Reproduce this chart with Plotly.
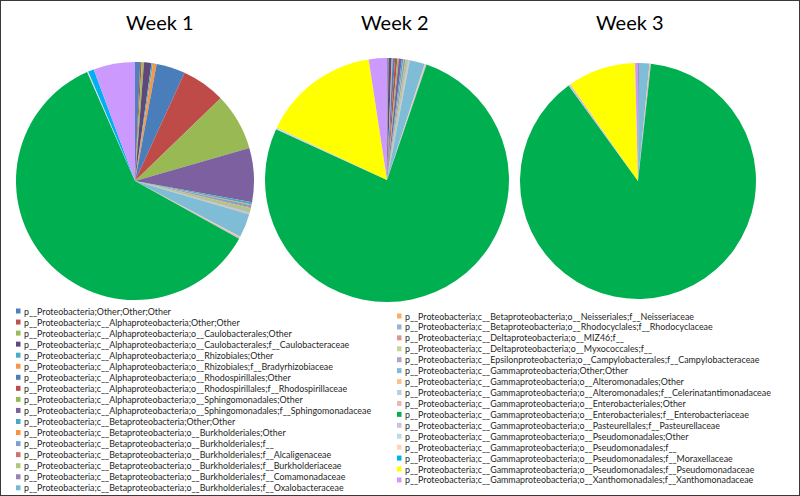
import plotly.graph_objects as go

labels = [
    "p__Proteobacteria;Other;Other;Other",
    "p__Proteobacteria;c__Alphaproteobacteria;Other;Other",
    "p__Proteobacteria;c__Alphaproteobacteria;o__Caulobacterales;Other",
    "p__Proteobacteria;c__Alphaproteobacteria;o__Caulobacterales;f__Caulobacteraceae",
    "p__Proteobacteria;c__Alphaproteobacteria;o__Rhizobiales;Other",
    "p__Proteobacteria;c__Alphaproteobacteria;o__Rhizobiales;f__Bradyrhizobiaceae",
    "p__Proteobacteria;c__Alphaproteobacteria;o__Rhodospirillales;Other",
    "p__Proteobacteria;c__Alphaproteobacteria;o__Rhodospirillales;f__Rhodospirillaceae",
    "p__Proteobacteria;c__Alphaproteobacteria;o__Sphingomonadales;Other",
    "p__Proteobacteria;c__Alphaproteobacteria;o__Sphingomonadales;f__Sphingomonadaceae",
    "p__Proteobacteria;c__Betaproteobacteria;Other;Other",
    "p__Proteobacteria;c__Betaproteobacteria;o__Burkholderiales;Other",
    "p__Proteobacteria;c__Betaproteobacteria;o__Burkholderiales;f__",
    "p__Proteobacteria;c__Betaproteobacteria;o__Burkholderiales;f__Alcaligenaceae",
    "p__Proteobacteria;c__Betaproteobacteria;o__Burkholderiales;f__Burkholderiaceae",
    "p__Proteobacteria;c__Betaproteobacteria;o__Burkholderiales;f__Comamonadaceae",
    "p__Proteobacteria;c__Betaproteobacteria;o__Burkholderiales;f__Oxalobacteraceae",
    "p__Proteobacteria;c__Betaproteobacteria;o__Neisseriales;f__Neisseriaceae",
    "p__Proteobacteria;c__Betaproteobacteria;o__Rhodocyclales;f__Rhodocyclaceae",
    "p__Proteobacteria;c__Deltaproteobacteria;o__MIZ46;f__",
    "p__Proteobacteria;c__Deltaproteobacteria;o__Myxococcales;f__",
    "p__Proteobacteria;c__Epsilonproteobacteria;o__Campylobacterales;f__Campylobacteraceae",
    "p__Proteobacteria;c__Gammaproteobacteria;Other;Other",
    "p__Proteobacteria;c__Gammaproteobacteria;o__Alteromonadales;Other",
    "p__Proteobacteria;c__Gammaproteobacteria;o__Alteromonadales;f__Celerinatantimonadaceae",
    "p__Proteobacteria;c__Gammaproteobacteria;o__Enterobacteriales;Other",
    "p__Proteobacteria;c__Gammaproteobacteria;o__Enterobacteriales;f__Enterobacteriaceae",
    "p__Proteobacteria;c__Gammaproteobacteria;o__Pasteurellales;f__Pasteurellaceae",
    "p__Proteobacteria;c__Gammaproteobacteria;o__Pseudomonadales;Other",
    "p__Proteobacteria;c__Gammaproteobacteria;o__Pseudomonadales;f__",
    "p__Proteobacteria;c__Gammaproteobacteria;o__Pseudomonadales;f__Moraxellaceae",
    "p__Proteobacteria;c__Gammaproteobacteria;o__Pseudomonadales;f__Pseudomonadaceae",
    "p__Proteobacteria;c__Gammaproteobacteria;o__Xanthomonadales;f__Xanthomonadaceae",
]

colors = [
    "#4F81BD", "#C0504D", "#9BBB59", "#5F497A", "#4BACC6", "#F79646",
    "#4A7EBB", "#BE4B48", "#98B954", "#7D60A0", "#46AAC5", "#F69240",
    "#7BA0CD", "#CD7371", "#AFC97A", "#9983B5", "#6FBDD1", "#F9AB6B",
    "#95B3D7", "#D99694", "#C3D69B", "#B3A2C7", "#7FBCD6", "#FAC090",
    "#B9CDE5", "#E6B9B8", "#00B050", "#CCC1DA", "#B7DEE8", "#FCD5B5",
    "#00B0F0", "#FFFF00", "#CC99FF",
]

week1 = [0.7, 0.2, 0.3, 1.0, 0.2, 0.5,
         3.9, 5.9, 7.7, 7.3,
         0.3, 0.1, 0.3, 0.1, 0.4, 0.1, 0.1,
         0.05, 0.05, 0.05, 0.05, 0.05, 3.2, 0.05, 0.05, 0.2,
         60.0, 0.05, 0.05, 0.05, 0.8, 0.0, 5.6]

week2 = [0.1, 0.05, 0.05, 0.4, 0.05, 0.1,
         0.3, 0.3, 0.2, 0.4,
         0.2, 0.05, 0.2, 0.05, 0.2, 0.05, 0.05,
         0.05, 0.05, 0.05, 0.05, 0.05, 2.0, 0.05, 0.05, 0.15,
         76.5, 0.1, 0.05, 0.05, 0.05, 15.5, 2.4]

week3 = [0.05, 0.0, 0.0, 0.05, 0.0, 0.0,
         0.0, 0.0, 0.0, 0.05,
         0.0, 0.0, 0.0, 0.0, 0.0, 0.0, 0.0,
         0.0, 0.0, 0.0, 0.0, 0.0, 1.4, 0.0, 0.0, 0.2,
         88.2, 0.3, 0.0, 0.0, 0.0, 9.3, 0.4]

weeks = ["Week 1", "Week 2", "Week 3"]
series = [week1, week2, week3]

W, H = 800, 496
# pie geometry in pixels: (center x, center y, radius)
geom = [(135, 181, 119), (387, 180, 122), (638, 181, 118)]
title_x = [160, 395, 630]

fig = go.Figure()
for name, vals, (cx, cy, r) in zip(weeks, series, geom):
    fig.add_trace(go.Pie(
        labels=labels, values=vals, name=name,
        sort=False, direction="clockwise", rotation=0,
        marker=dict(colors=colors, line=dict(width=0)),
        textinfo="none", hoverinfo="label+percent",
        showlegend=False,
        domain=dict(x=[(cx - r) / W, (cx + r) / W],
                    y=[1 - (cy + r) / H, 1 - (cy - r) / H]),
    ))

annotations = []
shapes = []
for name, tx in zip(weeks, title_x):
    annotations.append(dict(text=name, x=tx / W, y=1 - 22 / H, xref="paper", yref="paper",
                            xanchor="center", yanchor="middle", showarrow=False,
                            font=dict(family="Lato", size=20, color="#000000")))

# legend, two columns
n_left = 17
for i, (lab, col) in enumerate(zip(labels, colors)):
    if i < n_left:
        sx, ty = 16, 311 + i * 11.05
    else:
        sx, ty = 397, 316 + (i - n_left) * 10.93
    shapes.append(dict(type="rect", xref="paper", yref="paper",
                       x0=sx / W, x1=(sx + 4.5) / W,
                       y0=1 - (ty + 2.5) / H, y1=1 - (ty - 2.5) / H,
                       fillcolor=col, line=dict(width=0)))
    annotations.append(dict(text=lab, x=(sx + 6) / W, y=1 - ty / H, xref="paper", yref="paper",
                            xanchor="left", yanchor="middle", showarrow=False,
                            font=dict(family="Lato", size=8.9, color="#262626")))

# outer border of the chart area
shapes.append(dict(type="rect", xref="paper", yref="paper", x0=0, x1=1, y0=0, y1=1,
                   line=dict(color="#3a3a3a", width=2), fillcolor="rgba(0,0,0,0)"))

fig.update_layout(
    width=W, height=H,
    margin=dict(l=0, r=0, t=0, b=0),
    paper_bgcolor="white", plot_bgcolor="white",
    annotations=annotations, shapes=shapes,
)

fig.write_html("out.html", config={"displayModeBar": False},
               post_script="document.body.style.margin='0px';document.body.style.overflow='hidden';")
